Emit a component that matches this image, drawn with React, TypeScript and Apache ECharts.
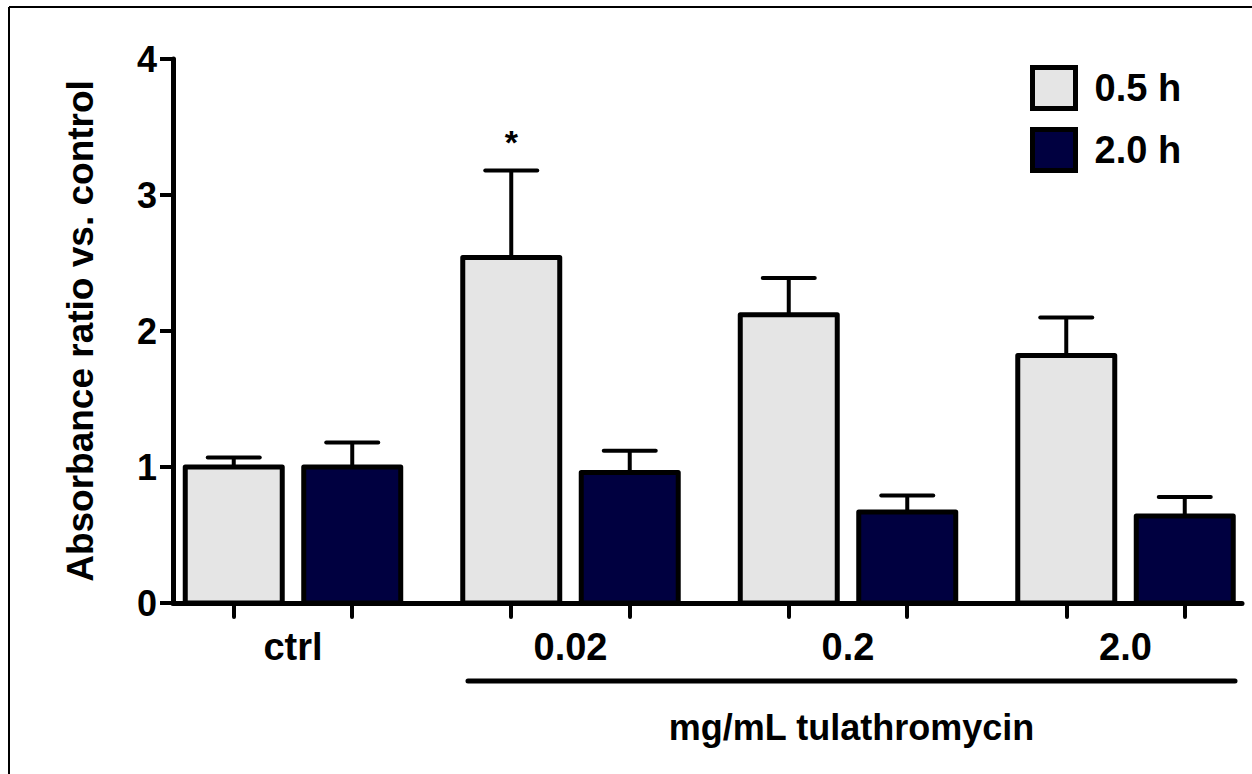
import React, { useEffect, useRef } from "react";
import * as echarts from "echarts";

// ---- data ----
const categories = ["ctrl", "0.02", "0.2", "2.0"];
const seriesNames = ["0.5 h", "2.0 h"];
const values05 = [1.0, 2.54, 2.12, 1.82];
const errors05 = [0.07, 0.64, 0.27, 0.28];
const values20 = [1.0, 0.96, 0.67, 0.64];
const errors20 = [0.18, 0.16, 0.12, 0.14];
const marks05 = ["", "*", "", ""];
const marks20 = ["", "", "", ""];
const yTickValues = [0, 1, 2, 3, 4];
const treatedRange = [1, 3]; // categories under the bracket
const xAxisTitle = "mg/mL tulathromycin";
const yAxisTitle = "Absorbance ratio vs. control";

// ---- layout / style constants ----
const FONT = "'Liberation Sans', Arial, Helvetica, sans-serif";
const COLOR_05 = "#E5E5E5";
const COLOR_20 = "#000040";
const X_MIN = -0.4324;
const X_MAX = 3.4198;
const BAR_OFFSET = 0.2135; // half the centre distance of the two bars, in group units
const BAR_W = 0.3495; // bar width in group units
const CAP_HALF = 26; // px

function makeBarSeries(
  name: string,
  values: number[],
  errors: number[],
  marks: string[],
  color: string,
  offset: number
) {
  return {
    type: "custom",
    name,
    itemStyle: { color, borderColor: "#000", borderWidth: 5 },
    encode: { x: 0, y: 1 },
    data: values.map((v, i) => [i, v, errors[i]]),
    renderItem: (params: any, api: any) => {
      const idx = api.value(0) as number;
      const v = api.value(1) as number;
      const err = api.value(2) as number;
      const cx = idx + offset;
      const base = api.coord([cx, 0]);
      const top = api.coord([cx, v]);
      const cap = api.coord([cx, v + err]);
      const w = api.size([BAR_W, 0])[0];
      const children: any[] = [
        {
          type: "line",
          shape: { x1: top[0], y1: top[1], x2: cap[0], y2: cap[1] },
          style: { stroke: "#000", lineWidth: 4 },
        },
        {
          type: "line",
          shape: { x1: cap[0] - CAP_HALF, y1: cap[1], x2: cap[0] + CAP_HALF, y2: cap[1] },
          style: { stroke: "#000", lineWidth: 4, lineCap: "round" },
        },
        {
          type: "rect",
          shape: { x: base[0] - w / 2, y: top[1], width: w, height: base[1] - top[1] },
          style: { fill: color, stroke: "#000", lineWidth: 5, lineJoin: "round" },
        },
      ];
      const m = marks[params.dataIndex];
      if (m) {
        children.push({
          type: "text",
          x: cap[0],
          y: cap[1] - 12,
          style: {
            text: m,
            fontSize: 34,
            fontWeight: "bold",
            fontFamily: FONT,
            fill: "#000",
            align: "center",
            verticalAlign: "bottom",
          },
        });
      }
      return { type: "group", children };
    },
  };
}

export default function App() {
  const ref = useRef<HTMLDivElement>(null);
  useEffect(() => {
    if (!ref.current) return;
    const chart = echarts.init(ref.current, undefined, { renderer: "svg" });
    const tickValues: number[] = [];
    categories.forEach((_, i) => {
      tickValues.push(i - BAR_OFFSET, i + BAR_OFFSET);
    });
    const option: any = {
      animation: false,
      backgroundColor: "#fff",
      grid: { left: 173, right: 10, top: 59, bottom: 171 },
      legend: {
        orient: "vertical",
        left: 1030,
        top: 65,
        padding: 0,
        itemWidth: 43,
        itemHeight: 41,
        itemGap: 16,
        icon: "rect",
        selectedMode: false,
        textStyle: {
          fontSize: 38,
          fontWeight: "bold",
          color: "#000",
          fontFamily: FONT,
          padding: [0, 0, 0, 14],
        },
        data: [
          { name: seriesNames[0], icon: "rect", itemStyle: { color: COLOR_05, borderColor: "#000", borderWidth: 5 } },
          { name: seriesNames[1], icon: "rect", itemStyle: { color: COLOR_20, borderColor: "#000", borderWidth: 5 } },
        ],
      },
      xAxis: {
        type: "value",
        min: X_MIN,
        max: X_MAX,
        splitLine: { show: false },
        axisLine: { show: true, onZero: true, lineStyle: { color: "#000", width: 5 } },
        axisTick: {
          show: true,
          customValues: tickValues,
          length: 14,
          lineStyle: { color: "#000", width: 4, cap: "round" },
        },
        axisLabel: {
          customValues: categories.map((_, i) => i),
          formatter: (v: number) => categories[Math.round(v)] ?? "",
          fontSize: 38,
          fontWeight: "bold",
          color: "#000",
          fontFamily: FONT,
          margin: 25,
        },
      },
      yAxis: {
        type: "value",
        min: 0,
        max: 4,
        interval: 1,
        name: yAxisTitle,
        nameLocation: "middle",
        nameGap: 74,
        nameTextStyle: { fontSize: 37, fontWeight: "bold", color: "#000", fontFamily: FONT },
        splitLine: { show: false },
        axisLine: { show: true, onZero: false, lineStyle: { color: "#000", width: 5 } },
        axisTick: { show: true, length: 13, lineStyle: { color: "#000", width: 4 } },
        axisLabel: {
          customValues: yTickValues,
          fontSize: 36,
          fontWeight: "bold",
          color: "#000",
          fontFamily: FONT,
          margin: 16,
        },
      },
      graphic: [
        { type: "line", shape: { x1: 9, y1: 7, x2: 9, y2: 774 }, style: { stroke: "#000", lineWidth: 2 } },
        { type: "line", shape: { x1: 9, y1: 7, x2: 1252, y2: 7 }, style: { stroke: "#000", lineWidth: 2 } },
      ],
      series: [
        makeBarSeries(seriesNames[0], values05, errors05, marks05, COLOR_05, -BAR_OFFSET),
        makeBarSeries(seriesNames[1], values20, errors20, marks20, COLOR_20, BAR_OFFSET),
        {
          type: "custom",
          name: "bracket",
          silent: true,
          encode: { x: [0, 1] },
          data: [treatedRange],
          renderItem: (_params: any, api: any) => {
            const a = api.value(0) as number;
            const b = api.value(1) as number;
            const p1 = api.coord([a - 0.3694, 0]);
            const p2 = api.coord([b + 0.3946, 0]);
            const y = p1[1] + 78;
            return {
              type: "group",
              children: [
                {
                  type: "line",
                  shape: { x1: p1[0], y1: y, x2: p2[0], y2: y },
                  style: { stroke: "#000", lineWidth: 5, lineCap: "round" },
                },
                {
                  type: "text",
                  x: (p1[0] + p2[0]) / 2,
                  y: y + 46,
                  style: {
                    text: xAxisTitle,
                    fontSize: 36,
                    fontWeight: "bold",
                    fontFamily: FONT,
                    fill: "#000",
                    align: "center",
                    verticalAlign: "middle",
                  },
                },
              ],
            };
          },
        },
      ],
    };
    chart.setOption(option);
    return () => chart.dispose();
  }, []);
  return (
    <div
      ref={ref}
      style={{ position: "fixed", left: 0, top: 0, width: 1252, height: 774, background: "#fff" }}
    />
  );
}
